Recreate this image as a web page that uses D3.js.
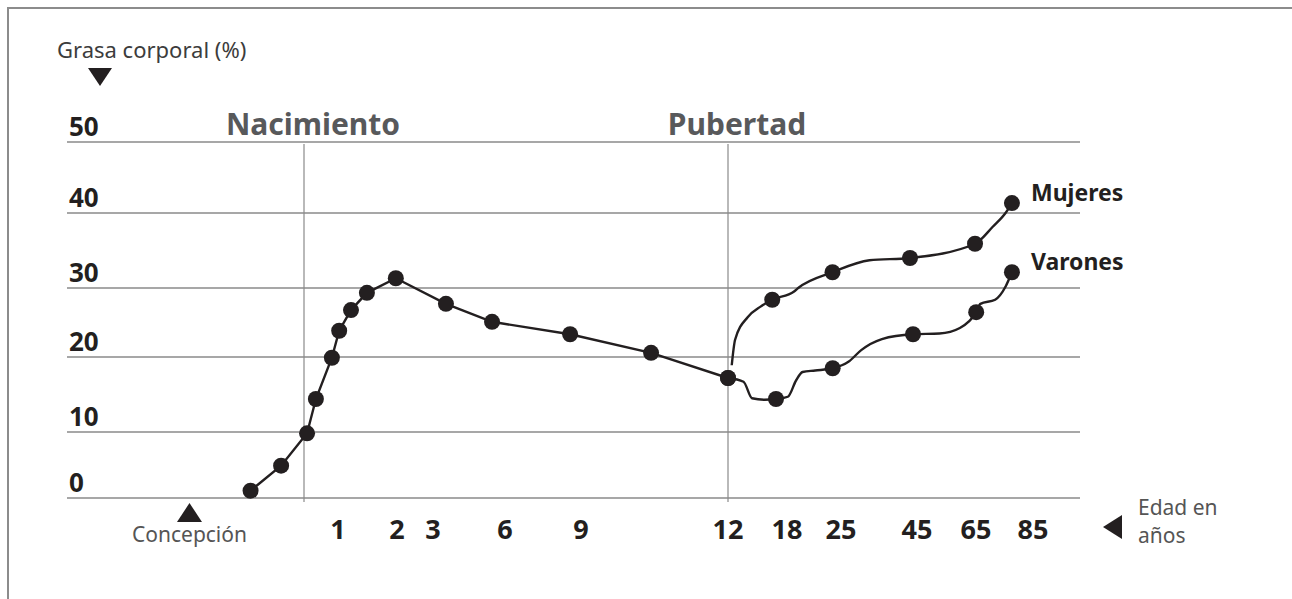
<!DOCTYPE html>
<html lang="es">
<head>
    <meta charset="UTF-8">
    <title>Grasa corporal según la edad</title>
    <style>
        body {
            margin: 0;
            background: #fff;
            font-family: "Noto Sans", sans-serif;
        }
        svg text { font-family: "Noto Sans", sans-serif; }
    </style>
    <script src="https://d3js.org/d3.v7.min.js"></script>
</head>
<body>
    <div id="chart"></div>

    <script>
        // etiquetas del eje de edad (años) y de grasa corporal (%)
        const edades = [1, 2, 3, 6, 9, 12, 18, 25, 45, 65, 85];
        const grasaTicks = [0, 10, 20, 30, 40, 50];

        // [edad, grasa %] desde la concepción hasta los 12 años
        const infancia = [
            [-0.35, 1.1], [-0.15, 4.9], [0.09, 9.8], [0.35, 14.4], [0.82, 19.9],
            [1.02, 23.8], [1.22, 26.8], [1.49, 29.3], [1.98, 31.3], [3.54, 27.7],
            [5.46, 25.1], [8.57, 23.3], [10.43, 20.6], [12, 17.2]
        ];

        // [edad, grasa %, punto marcado]
        const varones = [
            [12, 17.2, 1], [13.58, 16.7, 0], [14.44, 14.5, 0], [15.72, 14.3, 0], [16.88, 14.4, 1],
            [18.11, 14.7, 0], [19.19, 16.9, 0], [20.02, 18.0, 0], [21.66, 18.2, 0], [23.92, 18.5, 1],
            [27.05, 19.4, 0], [30.32, 21.0, 0], [35.76, 22.6, 0], [43.95, 23.3, 1], [52.63, 23.4, 0],
            [59.53, 24.2, 0], [65.07, 26.5, 1], [66.54, 27.7, 0], [71.71, 28.3, 0], [75.39, 30.2, 0],
            [77.61, 32.1, 1]
        ];

        const mujeres = [
            [12.38, 18.9, 0], [12.72, 22.5, 0], [14.02, 25.8, 0], [15.31, 27.3, 0], [16.5, 28.3, 1],
            [18.92, 29.5, 0], [19.45, 30.0, 0], [23.9, 32.1, 1], [32.5, 33.7, 0], [43.16, 34.0, 1],
            [64.67, 35.9, 1], [70.96, 38.2, 0], [75.36, 40.0, 0], [77.61, 41.4, 1]
        ];

        const series = [
            { nombre: "Mujeres", datos: mujeres },
            { nombre: "Varones", datos: varones }
        ];

        const width = 1292;
        const height = 599;
        const gridLeft = 67;
        const gridRight = 1080;
        const ink = "#231f20";

        // el eje horizontal no es proporcional: cada tramo tiene su propio ancho
        const x = d3.scaleLinear()
            .domain([-0.75, 0].concat(edades))
            .range([189.5, 304, 338, 397, 433, 505, 581, 728, 787, 841, 917, 976, 1033]);

        const y = d3.scaleLinear()
            .domain(grasaTicks)
            .range([498, 432, 357, 288, 213, 142]);

        const svg = d3.select("#chart")
            .append("svg")
            .attr("width", width)
            .attr("height", height);

        // marco
        svg.append("path")
            .attr("d", `M8,${height + 2} L8,8 L${width + 2},8`)
            .attr("fill", "none")
            .attr("stroke", "#8c8c8c")
            .attr("stroke-width", 2);

        // líneas horizontales
        svg.selectAll("line.grid")
            .data(grasaTicks)
            .enter()
            .append("line")
            .attr("class", "grid")
            .attr("x1", gridLeft)
            .attr("x2", gridRight)
            .attr("y1", d => y(d))
            .attr("y2", d => y(d))
            .attr("stroke", "#8a8a8a")
            .attr("stroke-width", 1.6);

        // nacimiento y pubertad
        const hitos = [{ edad: 0, texto: "Nacimiento" }, { edad: 12, texto: "Pubertad" }];
        svg.selectAll("line.hito")
            .data(hitos)
            .enter()
            .append("line")
            .attr("class", "hito")
            .attr("x1", d => x(d.edad))
            .attr("x2", d => x(d.edad))
            .attr("y1", y(50) + 2)
            .attr("y2", y(0) + 4)
            .attr("stroke", "#8a8a8a")
            .attr("stroke-width", 1.2);

        svg.selectAll("text.hito")
            .data(hitos)
            .enter()
            .append("text")
            .attr("class", "hito")
            .attr("x", d => x(d.edad) + 9)
            .attr("y", y(50) - 7)
            .attr("text-anchor", "middle")
            .attr("font-size", 30)
            .attr("font-weight", "bold")
            .attr("fill", "#58595b")
            .text(d => d.texto);

        // etiquetas de grasa
        svg.selectAll("text.ytick")
            .data(grasaTicks)
            .enter()
            .append("text")
            .attr("class", "ytick")
            .attr("x", 69)
            .attr("y", d => y(d) - 6)
            .attr("font-size", 26)
            .attr("font-weight", "bold")
            .attr("fill", ink)
            .text(d => d);

        // etiquetas de edad
        svg.selectAll("text.xtick")
            .data(edades)
            .enter()
            .append("text")
            .attr("class", "xtick")
            .attr("x", d => x(d))
            .attr("y", 539)
            .attr("text-anchor", "middle")
            .attr("font-size", 27)
            .attr("font-weight", "bold")
            .attr("fill", ink)
            .text(d => d);

        // título del eje vertical
        svg.append("text")
            .attr("x", 57)
            .attr("y", 58)
            .attr("font-size", 22)
            .attr("fill", "#3c3c3c")
            .text("Grasa corporal (%)");
        svg.append("path")
            .attr("d", "M88,68 L112,68 L100,86 Z")
            .attr("fill", ink);

        // concepción
        const xc = x(-0.75);
        svg.append("path")
            .attr("d", `M${xc - 12.5},522 L${xc + 12.5},522 L${xc},503 Z`)
            .attr("fill", ink);
        svg.append("text")
            .attr("x", xc)
            .attr("y", 542)
            .attr("text-anchor", "middle")
            .attr("font-size", 21)
            .attr("fill", "#555")
            .text("Concepción");

        // título del eje horizontal
        svg.append("path")
            .attr("d", "M1103,527 L1122,515 L1122,539 Z")
            .attr("fill", ink);
        svg.append("text")
            .attr("x", 1138)
            .attr("y", 515)
            .attr("font-size", 21)
            .attr("fill", "#555")
            .text("Edad en");
        svg.append("text")
            .attr("x", 1138)
            .attr("y", 543)
            .attr("font-size", 21)
            .attr("fill", "#555")
            .text("años");

        // curva de la infancia
        svg.append("path")
            .datum(infancia)
            .attr("d", d3.line().x(d => x(d[0])).y(d => y(d[1])))
            .attr("fill", "none")
            .attr("stroke", ink)
            .attr("stroke-width", 2.4);

        svg.selectAll("circle.infancia")
            .data(infancia)
            .enter()
            .append("circle")
            .attr("class", "infancia")
            .attr("cx", d => x(d[0]))
            .attr("cy", d => y(d[1]))
            .attr("r", 8)
            .attr("fill", ink);

        // curvas de mujeres y varones
        const curva = d3.line()
            .x(d => x(d[0]))
            .y(d => y(d[1]))
            .curve(d3.curveMonotoneX);

        series.forEach(s => {
            svg.append("path")
                .datum(s.datos)
                .attr("d", curva)
                .attr("fill", "none")
                .attr("stroke", ink)
                .attr("stroke-width", 2.4);

            svg.selectAll(`circle.${s.nombre}`)
                .data(s.datos.filter(d => d[2]))
                .enter()
                .append("circle")
                .attr("class", s.nombre)
                .attr("cx", d => x(d[0]))
                .attr("cy", d => y(d[1]))
                .attr("r", 8)
                .attr("fill", ink);

            const ultimo = s.datos[s.datos.length - 1];
            svg.append("text")
                .attr("x", x(ultimo[0]) + 19)
                .attr("y", y(ultimo[1]) - 2)
                .attr("font-size", 23)
                .attr("font-weight", "bold")
                .attr("fill", ink)
                .text(s.nombre);
        });
    </script>
</body>
</html>
